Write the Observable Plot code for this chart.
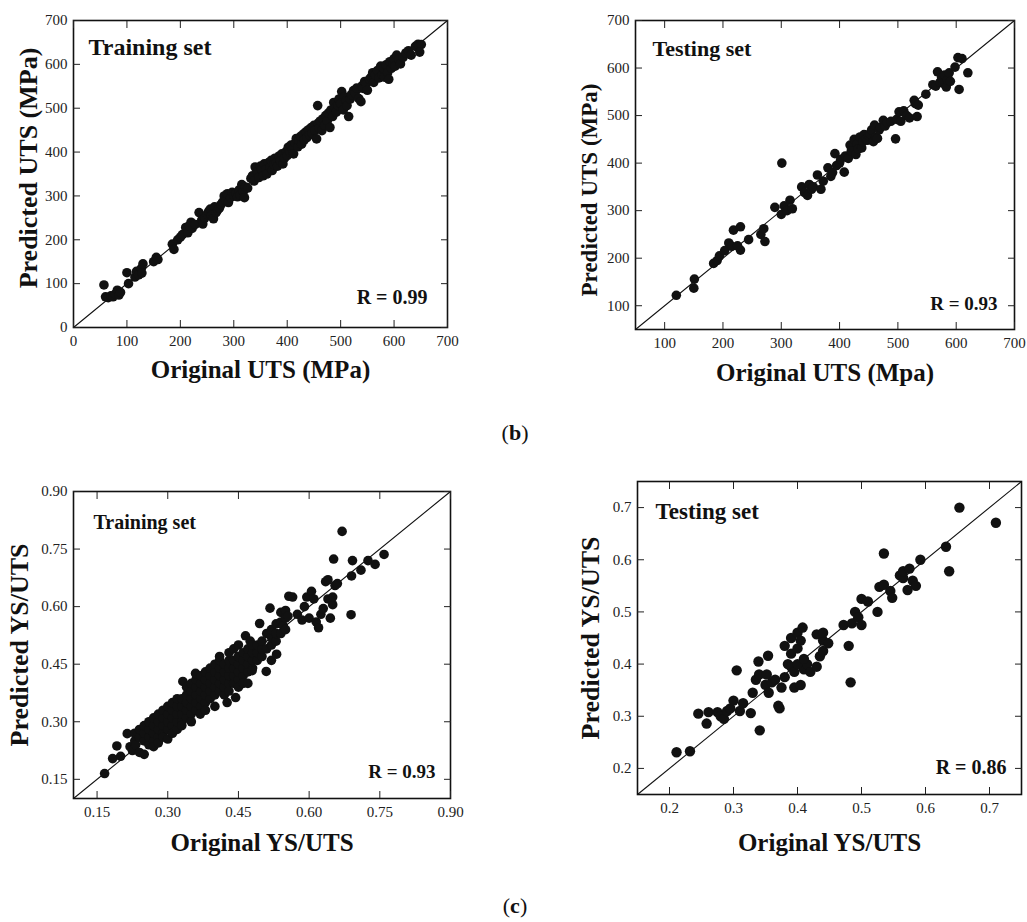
<!DOCTYPE html>
<html><head><meta charset="utf-8">
<script src="https://cdn.jsdelivr.net/npm/d3@7"></script>
<script src="https://cdn.jsdelivr.net/npm/@observablehq/plot@0.6"></script>
<style>
body{margin:0;background:#fff;width:1027px;height:922px;position:relative;overflow:hidden;font-family:"Liberation Serif",serif}
.panel{position:absolute}
.cap{position:absolute;font-size:22px;line-height:1;width:60px;text-align:center;color:#111;font-family:"Liberation Serif",serif}
</style></head><body>
<div id="p1" class="panel" style="left:0;top:0"></div>
<div id="p2" class="panel" style="left:530px;top:0"></div>
<div id="p3" class="panel" style="left:0;top:430px"></div>
<div id="p4" class="panel" style="left:530px;top:430px"></div>
<div class="cap" style="left:485px;top:422px">(<b>b</b>)</div>
<div class="cap" style="left:485px;top:895px">(<b>c</b>)</div>
<script>
// ---- data: [original, predicted] ----
const trainUts = [[57,97],[60,70],[65,68],[70,72],[74,70],[78,76],[82,85],[85,74],[88,80],
[100,125],[103,100],[115,115],[118,128],[122,120],[127,135],[130,145],[128,124],
[150,150],[155,160],[158,155],
[185,190],[188,178],[195,200],[200,206],[204,212],[210,228],[214,216],[220,240],[222,226],[217,232],[228,235],
[235,262],[240,245],[242,236],[246,250],[250,258],[253,265],[256,270],[258,255],[262,248],[264,275],[267,262],[270,268],[273,272],[276,280],[279,286],
[282,300],[285,290],[288,305],[290,285],[294,296],[297,308],[300,300],[304,306],[307,298],[310,314],[312,302],[315,326],[318,310],[320,296],[322,320],[326,318],
[332,340],[335,346],[338,334],[340,366],[344,355],[347,342],[350,368],[352,360],[355,346],[357,373],[360,360],[362,350],[365,376],[368,366],[370,381],[372,358],[375,372],[377,386],[380,376],[382,368],[385,391],[387,380],[390,396],[392,373],[395,386],[398,401],[400,392],[402,411],[405,400],[407,416],[410,406],[412,396],[415,421],[417,431],[420,412],[422,426],[425,436],[427,418],[430,441],[432,428],[435,446],[437,433],[440,451],[442,439],[445,456],[447,443],[450,461],[452,449],[457,506],[455,430],
[458,466],[460,455],[462,471],[465,449],[467,476],[470,461],[472,483],[475,471],[477,489],[480,456],[482,496],[485,481],[487,513],[490,501],[492,491],[495,506],[497,521],[500,511],[502,538],[505,496],[507,526],[510,516],[512,506],[515,481],[518,521],[520,531],[524,540],[527,535],[530,546],[534,522],[538,515],[540,551],[542,545],[545,561],[548,556],[550,541],[554,566],[557,571],[560,581],[562,559],[565,576],[569,586],[572,569],[575,596],[578,576],[580,591],[582,571],[585,599],[588,581],[590,566],[592,606],[595,591],[598,601],[600,613],[602,596],[605,621],[609,611],[612,601],[617,616],[622,626],[627,631],[632,621],[640,641],[645,646],[651,645],[648,628]];

const testUts = [[120,122],[151,156],[150,137],[184,189],[190,195],[194,205],[203,216],[210,232],[215,225],[218,259],[230,266],[230,217],[225,226],[244,239],[265,250],[270,262],[272,235],
[289,307],[300,292],[305,310],[310,300],[315,322],[319,304],[301,400],
[335,350],[340,338],[345,332],[348,355],[352,345],[355,350],[362,375],[368,345],[372,362],[380,390],[385,372],[388,380],[392,420],[395,395],[400,400],[402,408],[408,381],[410,415],[415,410],[418,438],[420,425],[425,450],[428,418],[430,440],[432,430],[435,455],[438,432],[440,445],[442,460],[445,450],[448,448],[450,458],[452,462],[455,470],[458,445],[460,480],[462,455],[465,452],[468,470],[470,475],[475,490],[478,478],[482,485],[488,488],[496,451],[498,492],[502,508],[505,488],[510,510],[515,500],[520,495],[528,532],[530,525],[533,498],[535,522],[548,545],[560,565],[565,562],[568,592],[572,570],[575,580],[578,568],[580,585],[583,560],[585,575],[588,590],[590,572],[598,602],[603,622],[605,555],[610,620],[620,590]];

const trainRatio = [[0.166,0.165],[0.183,0.204],[0.192,0.237],[0.20,0.21],[0.214,0.269],[0.22,0.235],[0.225,0.225],
[0.23,0.25],[0.23,0.27],[0.232,0.24],[0.24,0.22],[0.24,0.26],[0.24,0.28],[0.25,0.215],[0.25,0.25],[0.25,0.27],[0.25,0.29],
[0.26,0.24],[0.26,0.26],[0.26,0.28],[0.26,0.30],[0.27,0.25],[0.27,0.27],[0.27,0.29],[0.27,0.31],[0.27,0.235],
[0.28,0.26],[0.28,0.28],[0.28,0.30],[0.28,0.32],[0.28,0.245],[0.29,0.27],[0.29,0.29],[0.29,0.31],[0.29,0.33],[0.29,0.26],
[0.30,0.28],[0.30,0.30],[0.30,0.32],[0.30,0.34],[0.30,0.255],[0.31,0.29],[0.31,0.31],[0.31,0.33],[0.31,0.35],[0.31,0.27],
[0.32,0.28],[0.32,0.30],[0.32,0.32],[0.32,0.34],[0.32,0.36],[0.33,0.30],[0.33,0.32],[0.33,0.34],[0.33,0.36],[0.33,0.29],[0.332,0.405],
[0.34,0.31],[0.34,0.33],[0.34,0.35],[0.34,0.37],[0.34,0.39],[0.35,0.32],[0.35,0.34],[0.35,0.36],[0.35,0.38],[0.35,0.40],[0.35,0.30],
[0.36,0.33],[0.36,0.35],[0.36,0.37],[0.36,0.39],[0.36,0.41],[0.359,0.426],[0.37,0.34],[0.37,0.36],[0.37,0.38],[0.37,0.40],[0.37,0.42],[0.369,0.32],
[0.38,0.35],[0.38,0.37],[0.38,0.39],[0.38,0.41],[0.38,0.43],[0.38,0.33],[0.39,0.36],[0.39,0.38],[0.39,0.40],[0.39,0.42],[0.39,0.44],
[0.40,0.37],[0.40,0.39],[0.40,0.41],[0.40,0.43],[0.40,0.45],[0.40,0.34],[0.41,0.38],[0.41,0.40],[0.41,0.42],[0.41,0.44],[0.41,0.46],[0.41,0.47],
[0.42,0.37],[0.42,0.39],[0.42,0.41],[0.42,0.43],[0.42,0.45],[0.426,0.35],[0.43,0.38],[0.43,0.40],[0.43,0.42],[0.43,0.44],[0.43,0.46],[0.43,0.48],
[0.44,0.40],[0.44,0.42],[0.44,0.44],[0.44,0.46],[0.44,0.49],[0.444,0.363],[0.45,0.41],[0.45,0.43],[0.45,0.45],[0.45,0.47],[0.45,0.50],[0.45,0.39],
[0.46,0.42],[0.46,0.44],[0.46,0.46],[0.46,0.48],[0.465,0.524],[0.46,0.40],[0.47,0.43],[0.47,0.45],[0.47,0.47],[0.47,0.49],[0.475,0.51],[0.47,0.40],
[0.48,0.44],[0.48,0.46],[0.48,0.48],[0.48,0.50],[0.479,0.433],[0.49,0.46],[0.49,0.48],[0.49,0.50],[0.495,0.556],[0.50,0.47],[0.50,0.49],[0.50,0.51],[0.509,0.431],
[0.51,0.49],[0.517,0.596],[0.51,0.53],[0.52,0.50],[0.52,0.52],[0.52,0.54],[0.52,0.46],[0.53,0.51],[0.53,0.53],[0.53,0.555],[0.531,0.476],
[0.54,0.53],[0.54,0.56],[0.54,0.585],[0.545,0.55],[0.55,0.54],[0.55,0.57],[0.55,0.59],[0.557,0.627],[0.565,0.625],[0.555,0.575],[0.575,0.58],[0.585,0.565],
[0.59,0.60],[0.595,0.625],[0.60,0.57],[0.605,0.64],[0.61,0.62],[0.615,0.56],[0.62,0.545],[0.625,0.58],[0.63,0.595],[0.635,0.665],[0.64,0.67],[0.64,0.62],
[0.645,0.57],[0.65,0.605],[0.65,0.625],[0.655,0.655],[0.66,0.66],[0.652,0.724],[0.67,0.796],[0.69,0.68],[0.692,0.72],[0.689,0.579],[0.71,0.695],[0.725,0.72],[0.74,0.71],[0.759,0.736]];

const testRatio = [[0.211,0.231],[0.232,0.233],[0.245,0.305],[0.261,0.308],[0.258,0.286],
[0.275,0.308],[0.28,0.30],[0.285,0.295],[0.29,0.31],[0.295,0.315],[0.30,0.33],[0.305,0.388],[0.31,0.31],[0.315,0.325],[0.327,0.306],
[0.33,0.345],[0.335,0.37],[0.34,0.38],[0.341,0.273],[0.339,0.405],[0.35,0.36],[0.354,0.416],[0.352,0.38],[0.355,0.345],[0.36,0.365],[0.365,0.37],
[0.37,0.32],[0.372,0.315],[0.375,0.355],[0.38,0.435],[0.385,0.40],[0.39,0.45],[0.39,0.42],[0.395,0.355],[0.40,0.46],[0.40,0.43],[0.405,0.445],
[0.408,0.47],[0.405,0.36],[0.41,0.39],[0.415,0.40],[0.42,0.385],[0.38,0.375],[0.39,0.395],[0.395,0.385],[0.40,0.40],[0.41,0.41],[0.43,0.395],
[0.43,0.457],[0.44,0.445],[0.44,0.46],[0.435,0.415],[0.44,0.425],[0.448,0.44],[0.472,0.475],[0.48,0.435],[0.483,0.365],[0.485,0.478],
[0.49,0.50],[0.495,0.49],[0.50,0.475],[0.50,0.525],[0.51,0.52],[0.525,0.50],[0.528,0.548],[0.535,0.612],[0.535,0.552],[0.545,0.54],
[0.548,0.527],[0.56,0.57],[0.565,0.565],[0.565,0.578],[0.572,0.542],[0.575,0.583],[0.58,0.56],[0.585,0.55],[0.592,0.60],[0.632,0.625],
[0.637,0.578],[0.653,0.70],[0.71,0.671]];

// ---- tick labels ----
const utsTicksA = [0,100,200,300,400,500,600,700];
const utsTicksB = [100,200,300,400,500,600,700];
const ratioTicksA = [0.15,0.30,0.45,0.60,0.75,0.90];
const ratioTicksB = [0.2,0.3,0.4,0.5,0.6,0.7];

function panel(o) {
  const ink = "#111";
  return Plot.plot({
    width: o.width, height: o.height,
    marginTop: o.m[0], marginRight: o.m[1], marginBottom: o.m[2], marginLeft: o.m[3],
    x: {domain: o.domain}, y: {domain: o.domain},
    style: {fontFamily: "Liberation Serif, serif", fontSize: "15px", color: "#222", background: "#fff"},
    marks: [
      Plot.line(o.domain.map(v => [v, v]), {stroke: ink, strokeWidth: 1.1}),
      Plot.dot(o.data, {x: d => d[0], y: d => d[1], r: o.r, fill: ink, stroke: "none"}),
      Plot.frame({stroke: ink, strokeWidth: 1.6}),
      Plot.axisX(o.ticks, {anchor: "bottom", tickSize: -7, tickPadding: 15, tickFormat: o.fmt, label: null}),
      Plot.axisX(o.ticks, {anchor: "top", tickSize: -7, fill: "none", label: null}),
      Plot.axisY(o.ticks, {anchor: "left", tickSize: -7, tickPadding: 13, tickFormat: o.fmt, label: null}),
      Plot.axisY(o.ticks, {anchor: "right", tickSize: -7, fill: "none", label: null}),
      Plot.text([o.xLabel], {text: d => d, frameAnchor: "bottom", textAnchor: "middle", dy: o.xl[0], fontSize: o.xl[1], fontWeight: "bold", fill: ink, lineAnchor: "middle"}),
      Plot.text([o.yLabel], {text: d => d, frameAnchor: "left", textAnchor: "middle", rotate: -90, dx: o.yl[0], dy: o.yl[1], fontSize: o.yl[2], fontWeight: "bold", fill: ink, lineAnchor: "middle"}),
      Plot.text([o.setLabel], {text: d => d, frameAnchor: "top-left", textAnchor: "start", dx: o.sl[0], dy: o.sl[1], fontSize: o.sl[2], fontWeight: "bold", fill: ink, lineAnchor: "middle"}),
      Plot.text([o.rLabel], {text: d => d, frameAnchor: "bottom-right", textAnchor: "end", dx: o.rl[0], dy: o.rl[1], fontSize: o.rl[2], fontWeight: "bold", fill: ink, lineAnchor: "middle"})
    ]
  });
}

document.getElementById("p1").append(panel({
  width: 470, height: 400, m: [20, 23, 73, 73], domain: [0, 700], ticks: utsTicksA, fmt: d => String(d),
  data: trainUts, r: 4.8,
  xLabel: "Original UTS (MPa)", xl: [42, 25],
  yLabel: "Predicted UTS (MPa)", yl: [-45, -6, 26],
  setLabel: "Training set", sl: [15, 27, 24],
  rLabel: "R = 0.99", rl: [-20, -30, 20]
}));
document.getElementById("p2").append(panel({
  width: 497, height: 400, m: [20, 13, 71, 105], domain: [50, 700], ticks: utsTicksB, fmt: d => String(d),
  data: testUts, r: 4.8,
  xLabel: "Original UTS (Mpa)", xl: [43, 25],
  yLabel: "Predicted UTS (MPa)", yl: [-46, 15, 23],
  setLabel: "Testing set", sl: [17, 28, 22],
  rLabel: "R = 0.93", rl: [-17, -26, 19]
}));
document.getElementById("p3").append(panel({
  width: 470, height: 440, m: [61, 20, 72, 73], domain: [0.10, 0.90], ticks: ratioTicksA, fmt: d3.format(".2f"),
  data: trainRatio, r: 4.8,
  xLabel: "Original YS/UTS", xl: [44, 25],
  yLabel: "Predicted YS/UTS", yl: [-54, 0, 26],
  setLabel: "Training set", sl: [20, 31, 20],
  rLabel: "R = 0.93", rl: [-15, -27, 19]
}));
document.getElementById("p4").append(panel({
  width: 497, height: 440, m: [51, 6, 76, 107], domain: [0.15, 0.75], ticks: ratioTicksB, fmt: d3.format(".1f"),
  data: testRatio, r: 5.2,
  xLabel: "Original YS/UTS", xl: [48, 25],
  yLabel: "Predicted YS/UTS", yl: [-47, 0, 26],
  setLabel: "Testing set", sl: [18, 30, 23],
  rLabel: "R = 0.86", rl: [-15, -27, 20]
}));
</script>
</body></html>
